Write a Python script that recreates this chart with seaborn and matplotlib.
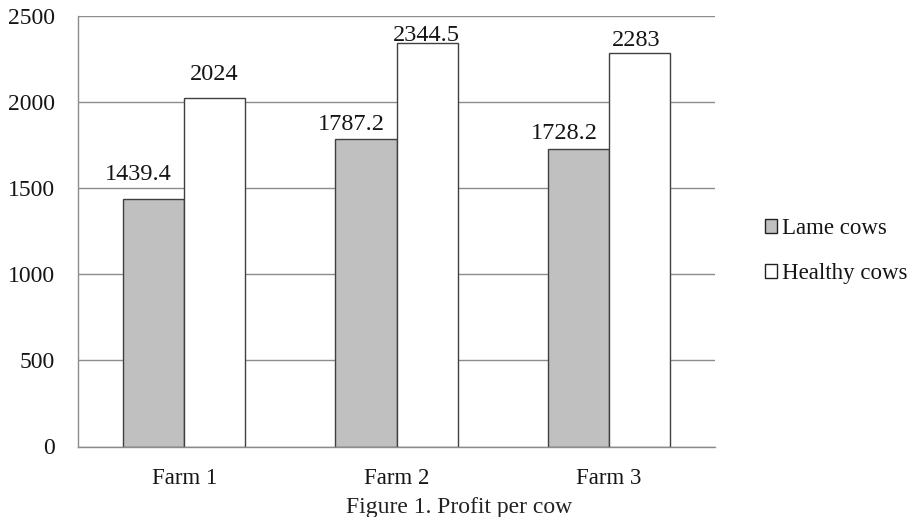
import matplotlib
matplotlib.use("Agg")
import matplotlib.pyplot as plt
import seaborn as sns
import pandas as pd
from matplotlib.patches import Patch

farms = ["Farm 1", "Farm 2", "Farm 3"]
lame_cows = [1439.4, 1787.2, 1728.2]
healthy_cows = [2024, 2344.5, 2283]
series_names = ["Lame cows", "Healthy cows"]
y_ticks = [0, 500, 1000, 1500, 2000, 2500]

df = pd.DataFrame({
    "Farm": farms * 2,
    "Group": [series_names[0]] * 3 + [series_names[1]] * 3,
    "Profit": lame_cows + healthy_cows,
})

# hand-placed label offsets (pixels) relative to each bar's top centre
label_dx = [[-15, -15, -14], [-1, -1, -3]]
label_dy = [[24, 14, 15], [23, 7, 13]]

sns.set_theme(style="white")
plt.rcParams["font.family"] = ["Liberation Serif", "DejaVu Serif"]
TXT = "#151515"

fig = plt.figure(figsize=(9.18, 5.17), dpi=100)
ax = fig.add_axes([78 / 918, 1 - 446.5 / 517, 637 / 918, 430.5 / 517])

palette = {series_names[0]: "#c0c0c0", series_names[1]: "#ffffff"}
sns.barplot(data=df, x="Farm", y="Profit", hue="Group", palette=palette,
            width=0.575, edgecolor="#404040", linewidth=1.0, saturation=1,
            ax=ax, legend=False)

for container, vals, dxs, dys in zip(ax.containers, [lame_cows, healthy_cows],
                                     label_dx, label_dy):
    for bar, v, dx, dy in zip(container.patches, vals, dxs, dys):
        ax.annotate("%g" % v, xy=(bar.get_x() + bar.get_width() / 2, bar.get_height()),
                    xytext=(dx, dy), textcoords="offset pixels",
                    ha="center", va="center", fontsize=17.5, color=TXT)

ax.set_ylim(0, 2500)
ax.set_xlim(-0.5, 2.5)
ax.set_yticks(y_ticks)
ax.set_yticklabels([str(t) for t in y_ticks], fontsize=17, color=TXT)
ax.tick_params(axis="y", length=0, pad=16.5)
ax.tick_params(axis="x", length=0, pad=15.5, labelsize=16.5, labelcolor=TXT)
ax.set_xlabel("")
ax.set_ylabel("")
ax.yaxis.grid(True, color="#8c8c8c", linewidth=1.0)
ax.set_axisbelow(True)
for side in ["top", "right"]:
    ax.spines[side].set_visible(False)
for side in ["left", "bottom"]:
    ax.spines[side].set_color("#8c8c8c")
    ax.spines[side].set_linewidth(1.0)

handles = [Patch(facecolor="#c0c0c0", edgecolor="#222222", label=series_names[0]),
           Patch(facecolor="#ffffff", edgecolor="#222222", label=series_names[1])]
leg = fig.legend(handles=handles, loc="upper left", bbox_to_anchor=(765 / 918, 1 - 218 / 517),
                 frameon=False, fontsize=16.5, handlelength=0.52, handleheight=0.52,
                 handletextpad=0.22, labelspacing=1.05, borderaxespad=0, borderpad=0)
for t in leg.get_texts():
    t.set_color(TXT)

fig.text(459 / 918, 1 - 507 / 517, "Figure 1. Profit per cow", ha="center", va="center",
         fontsize=17, color="#222222")

fig.savefig("out.png", dpi=100)
